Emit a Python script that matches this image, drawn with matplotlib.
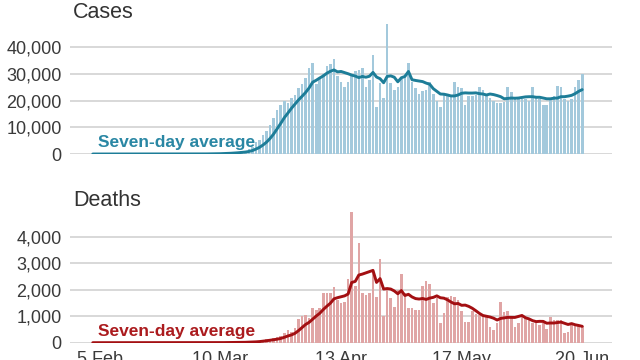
import matplotlib
matplotlib.use('Agg')
import matplotlib.pyplot as plt
import pandas as pd

plt.rcParams['font.family'] = ['Liberation Sans', 'DejaVu Sans']

# daily figures, 3 Feb - 20 Jun
start_date = '2020-02-03'
end_date = '2020-06-20'
tick_dates = ['2020-02-05', '2020-03-10', '2020-04-13', '2020-05-17', '2020-06-20']
tick_labels = ['5 Feb', '10 Mar', '13 Apr', '17 May', '20 Jun']

cases_feb = [0, 0, 0, 1, 0, 0, 1, 0, 0, 1, 0, 0, 0, 0, 0, 0, 0, 0, 0, 0,
             1, 1, 3, 0, 4, 6, 8]
cases_mar = [15, 30, 25, 35, 70, 90, 110, 130, 160, 250, 350, 450, 550, 700,
             800, 1000, 1300, 1800, 2800, 4500, 5200, 7000, 8500, 11000, 13500,
             16500, 18500, 20000, 19000, 21000, 22000]
cases_apr = [24500, 26000, 28500, 32000, 34000, 26000, 28000, 30000, 33000,
             33500, 35500, 29000, 27000, 25000, 27000, 29500, 31000, 31500,
             32000, 25000, 27500, 37000, 17500, 26500, 21000, 48500, 26500,
             24000, 25000, 28000]
cases_may = [30000, 34000, 27000, 24500, 22500, 23500, 24000, 27000, 22500,
             20000, 17500, 22000, 21500, 21500, 27000, 25000, 24500, 18500,
             21500, 21500, 22000, 25000, 24000, 22000, 21000, 20000, 19000,
             19000, 19500, 25000, 23000]
cases_jun = [20500, 20500, 20500, 20500, 20000, 25000, 21500, 20500, 18500,
             18500, 20500, 21500, 25500, 25000, 20500, 20000, 20500, 25000,
             27500, 30000]

deaths_feb = [0] * 27
deaths_mar = [1, 5, 1, 3, 1, 2, 3, 4, 4, 7, 8, 10, 12, 10, 15, 20, 25, 40, 50,
              60, 80, 120, 140, 150, 180, 200, 250, 380, 470, 420, 570]
deaths_apr = [890, 1020, 1060, 950, 1300, 1250, 1300, 1890, 1890, 1860, 2090,
              1610, 1480, 1550, 2390, 4920, 2150, 3770, 1860, 1800, 1860, 2740,
              1740, 3160, 1010, 1990, 1670, 1360, 1990, 2590]
deaths_may = [1860, 1320, 1300, 1230, 1240, 2140, 2340, 2210, 1510, 1700, 730,
              1130, 1710, 1750, 1740, 1600, 1210, 790, 790, 1210, 1100, 1040,
              1040, 1000, 600, 480, 730, 1520, 1170, 1190, 980]
deaths_jun = [600, 750, 980, 920, 860, 730, 730, 670, 730, 500, 980, 855, 855,
              855, 350, 415, 730, 670, 670, 630]

cases = cases_feb + cases_mar + cases_apr + cases_may + cases_jun
deaths = deaths_feb + deaths_mar + deaths_apr + deaths_may + deaths_jun
dates = pd.date_range(start_date, end_date, freq='D')

cases_avg = pd.Series(cases).rolling(7, min_periods=1).mean()
deaths_avg = pd.Series(deaths).rolling(7, min_periods=1).mean()

fig = plt.figure(figsize=(6.4, 3.6), dpi=100)
ax1 = fig.add_axes([0.1094, 0.5722, 0.847, 0.3715])
ax2 = fig.add_axes([0.1094, 0.0481, 0.847, 0.368])

panels = [
    (ax1, cases, cases_avg, '#a3c9dc', '#1d7d98', '#2a87a4', 50000,
     [0, 10000, 20000, 30000, 40000], 2600),
    (ax2, deaths, deaths_avg, '#e0a5a5', '#a30f12', '#ab1b1e', 5000,
     [0, 1000, 2000, 3000, 4000], 260),
]

for ax, daily, avg, bar_col, line_col, txt_col, ymax, yticks, txt_y in panels:
    ax.bar(dates, daily, width=0.72, color=bar_col, zorder=2)
    ax.plot(dates, avg, color=line_col, lw=2.1, zorder=3,
            solid_capstyle='round')
    ax.set_ylim(0, ymax)
    ax.set_xlim(pd.Timestamp('2020-01-27 14:00'), pd.Timestamp('2020-06-28 10:00'))
    ax.set_yticks(yticks)
    ax.set_yticklabels([f'{v:,}' for v in yticks])
    ax.grid(axis='y', color='#d2d2d2', lw=1.2, zorder=0)
    for s in ax.spines.values():
        s.set_visible(False)
    ax.tick_params(axis='y', length=0, pad=6, labelsize=13, labelcolor='#3a3a3a')
    ax.tick_params(axis='x', length=0, pad=6, labelsize=13, labelcolor='#3a3a3a')
    ax.text(pd.Timestamp('2020-02-04 12:00'), txt_y, 'Seven-day average',
            color=txt_col, fontsize=12.5, fontweight='bold', va='baseline',
            zorder=4)

ax1.set_xticks([])
ax2.set_xticks(pd.to_datetime(tick_dates))
ax2.set_xticklabels(tick_labels)

fig.text(73 / 640, 1 - 18 / 360, 'Cases', fontsize=15.5, color='#333333',
         va='baseline')
fig.text(73 / 640, 1 - 206 / 360, 'Deaths', fontsize=15.5, color='#333333',
         va='baseline')

fig.savefig('out.png', dpi=100)
